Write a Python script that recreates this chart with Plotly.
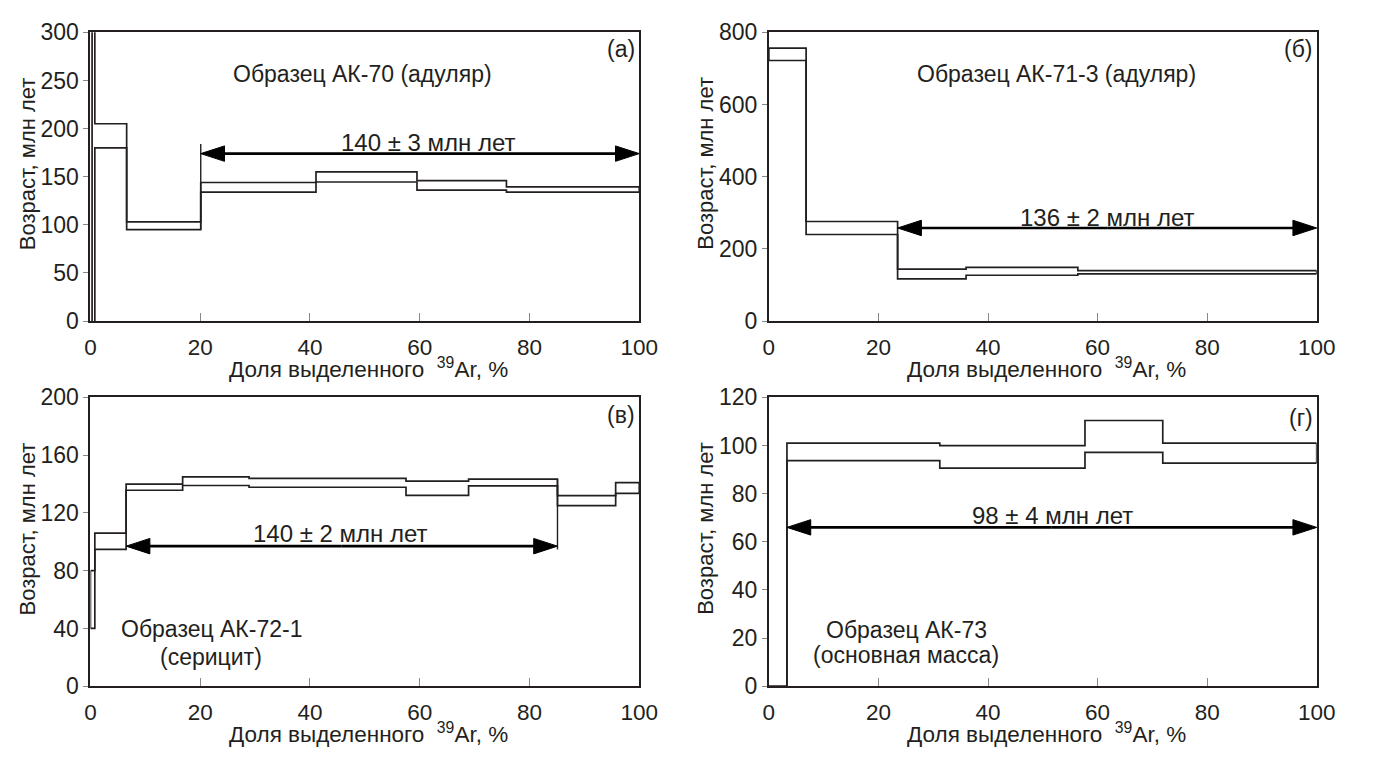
import plotly.graph_objects as go

# ---------------- data ----------------
# Panel (а) АК-70
a_x = [0.3, 0.8, 6.6, 20.1, 41.1, 59.5, 75.8, 100]
a_hi = [330, 205, 103, 144, 155, 146, 139.5]
a_lo = [-10, 180, 95, 134, 144.5, 136, 134]
a_plateau = [20.1, 100]
a_arrow_y = 174
a_mark = [20.1, 95, 184]

# Panel (б) АК-71-3
b_x = [0, 6.8, 23.5, 36.0, 56.4, 100]
b_hi = [756, 276, 144, 149, 140]
b_lo = [722, 240, 117, 127, 131]
b_plateau = [23.5, 100]
b_arrow_y = 258

# Panel (в) АК-72-1
c_x = [0, 0.8, 6.5, 16.8, 28.9, 57.5, 68.9, 85.1, 95.7, 100]
c_hi = [80, 106, 140, 145, 144, 142, 143.4, 132, 141]
c_lo = [40, 94.7, 135.7, 139, 137.8, 132.1, 138.7, 125, 133.5]
c_plateau = [6.5, 85.1]
c_arrow_y = 97
c_mark = [85.1, 94.7, 143.4]

# Panel (г) АК-73
d_x = [0, 3.3, 31.2, 57.7, 71.9, 100]
d_hi = [0, 101, 100, 110.4, 101]
d_lo = [-3, 93.7, 90.6, 97.2, 92.7]
d_plateau = [3.3, 100]
d_arrow_y = 66

x_ticks = [0, 20, 40, 60, 80, 100]
xtitle = "Доля выделенного  <sup>39</sup>Ar, %"
ytitle = "Возраст, млн лет"

FONT = "Liberation Sans, Arial, sans-serif"
INK = "#231f20"

fig = go.Figure()

W, H = 1374, 762
dom_x = {1: [86 / W, 645 / W], 2: [777 / W, 1335 / W], 3: [86 / W, 645 / W], 4: [777 / W, 1335 / W]}
dom_y = {1: [1 - 319 / H, 1 - 20 / H], 2: [1 - 319 / H, 1 - 20 / H],
         3: [1 - 697 / H, 1 - 398 / H], 4: [1 - 697 / H, 1 - 398 / H]}


def axn(k):
    return ("x" if k == 1 else f"x{k}"), ("y" if k == 1 else f"y{k}")


def steps(xs, vals):
    px, py = [], []
    for i, v in enumerate(vals):
        px += [xs[i], xs[i + 1]]
        py += [v, v]
    return px, py


def add_spectrum(k, xs, hi, lo):
    xa, ya = axn(k)
    for vals in (hi, lo):
        px, py = steps(xs, vals)
        fig.add_trace(go.Scatter(x=px, y=py, mode="lines", xaxis=xa, yaxis=ya,
                                 line=dict(color=INK, width=1.7), showlegend=False, hoverinfo="skip"))
    for xe, a, b in ((xs[0], lo[0], hi[0]), (xs[-1], lo[-1], hi[-1])):
        fig.add_trace(go.Scatter(x=[xe, xe], y=[a, b], mode="lines", xaxis=xa, yaxis=ya,
                                 line=dict(color=INK, width=1.7), showlegend=False, hoverinfo="skip"))


def add_mark(k, m):
    xa, ya = axn(k)
    fig.add_trace(go.Scatter(x=[m[0], m[0]], y=[m[1], m[2]], mode="lines", xaxis=xa, yaxis=ya,
                             line=dict(color=INK, width=1.4), showlegend=False, hoverinfo="skip"))


def add_arrow(k, plateau, yv):
    xa, ya = axn(k)
    mid = (plateau[0] + plateau[1]) / 2
    for end in plateau:
        fig.add_trace(go.Scatter(x=[mid, end], y=[yv, yv], mode="lines+markers", xaxis=xa, yaxis=ya,
                                 line=dict(color="black", width=2.6),
                                 marker=dict(symbol="arrow", angleref="previous", size=[0, 25],
                                             color="black", opacity=1,
                                             line=dict(width=1, color="black")),
                                 showlegend=False, hoverinfo="skip", cliponaxis=False))


add_spectrum(1, a_x, a_hi, a_lo)
add_spectrum(2, b_x, b_hi, b_lo)
add_spectrum(3, c_x, c_hi, c_lo)
add_spectrum(4, d_x, d_hi, d_lo)
add_mark(1, a_mark)
add_mark(3, c_mark)
add_arrow(1, a_plateau, a_arrow_y)
add_arrow(2, b_plateau, b_arrow_y)
add_arrow(3, c_plateau, c_arrow_y)
add_arrow(4, d_plateau, d_arrow_y)

yranges = {1: (0, 300, 50), 2: (0, 800, 200), 3: (0, 200, 40), 4: (0, 120, 20)}

layout = dict(width=W, height=H, margin=dict(l=0, r=0, t=0, b=0),
              paper_bgcolor="white", plot_bgcolor="white",
              font=dict(family=FONT, size=23, color=INK))
for k in range(1, 5):
    xk = "xaxis" if k == 1 else f"xaxis{k}"
    yk = "yaxis" if k == 1 else f"yaxis{k}"
    layout[xk] = dict(domain=dom_x[k], range=[0, 100], tickvals=x_ticks,
                      anchor="y" if k == 1 else f"y{k}",
                      showline=True, mirror=True, linecolor=INK, linewidth=2,
                      ticks="inside", ticklen=8, tickcolor="#888", tickwidth=1,
                      ticklabelstandoff=5,
                      showgrid=False, zeroline=False,
                      tickfont=dict(size=22.5, family=FONT, color=INK))
    lo, hi, st = yranges[k]
    layout[yk] = dict(domain=dom_y[k], range=[lo, hi], tickvals=list(range(lo, hi + 1, st)),
                      anchor="x" if k == 1 else f"x{k}",
                      showline=True, mirror=True, linecolor=INK, linewidth=2,
                      ticks="outside", ticklen=5, tickcolor="#888", tickwidth=1,
                      showgrid=False, zeroline=False,
                      tickfont=dict(size=23, family=FONT, color=INK))
fig.update_layout(**layout)

ann = []


def text(k, x, y, t, size=23, xanchor="center"):
    xr, yr = axn(k)
    ann.append(dict(x=x, y=y, xref=xr, yref=yr, text=t, showarrow=False, xanchor=xanchor,
                    yanchor="middle", font=dict(size=size, family=FONT, color=INK)))


text(1, 61.6, 186, "140 ± 3 млн лет", 24)
text(2, 61.9, 288, "136 ± 2 млн лет", 24)
text(3, 45.6, 105.5, "140 ± 2 млн лет", 24)
text(4, 51.8, 70.8, "98 ± 4 млн лет", 24)

text(1, 49.6, 257, "Образец АК-70 (адуляр)")
text(2, 52.5, 684, "Образец АК-71-3 (адуляр)")
text(3, 22, 39.5, "Образец АК-72-1")
text(3, 22, 20.5, "(серицит)")
text(4, 25.1, 23.5, "Образец АК-73")
text(4, 25.1, 12.8, "(основная масса)")

text(1, 99.6, 283, "(а)", 23, "right")
text(2, 99.6, 755, "(б)", 23, "right")
text(3, 99.6, 188, "(в)", 23, "right")
text(4, 99.6, 111.5, "(г)", 23, "right")

# axis titles
for cx, cy in ((369, 368), (1060, 368), (369, 745), (1060, 745)):
    ann.append(dict(x=cx / W, y=1 - cy / H, xref="paper", yref="paper", text=xtitle,
                    xanchor="center", yanchor="middle",
                    showarrow=False, font=dict(size=22.5, family=FONT, color=INK)))
for cx, cy in ((22, 156), (713, 156), (22, 534), (713, 534)):
    ann.append(dict(x=cx / W, y=1 - cy / H, xref="paper", yref="paper", text=ytitle,
                    xanchor="center", yanchor="middle",
                    textangle=-90, showarrow=False, font=dict(size=22, family=FONT, color=INK)))

fig.update_layout(annotations=ann)
fig.write_html("out.html", config={"displayModeBar": False},
               post_script="document.body.style.margin='0';document.body.style.overflow='hidden';")
